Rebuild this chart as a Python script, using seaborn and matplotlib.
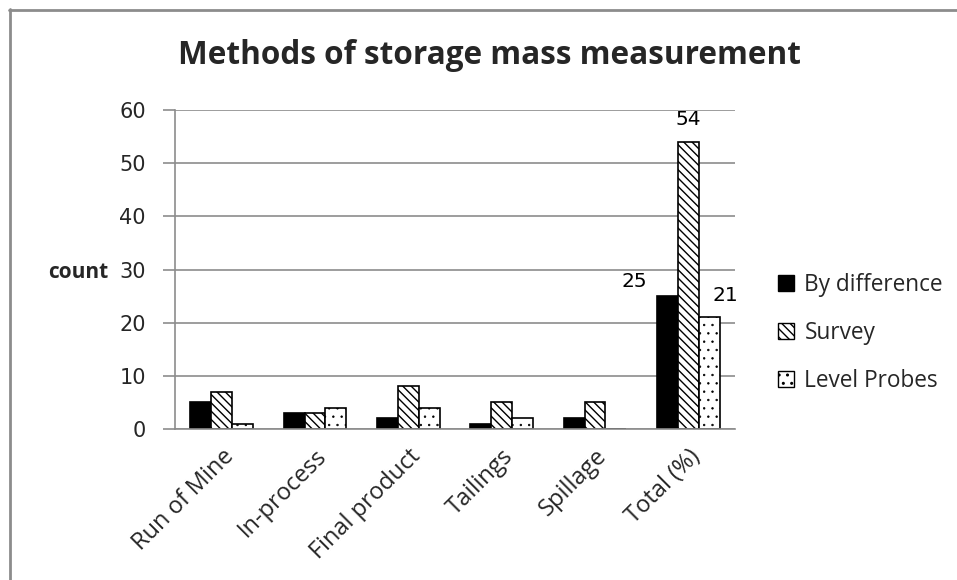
import matplotlib
matplotlib.use("Agg")
import matplotlib.pyplot as plt
from matplotlib.patches import Patch
from matplotlib.lines import Line2D
import seaborn as sns
import pandas as pd

categories = ["Run of Mine", "In-process", "Final product", "Tailings", "Spillage", "Total (%)"]
by_difference = [5, 3, 2, 1, 2, 25]
survey = [7, 3, 8, 5, 5, 54]
level_probes = [1, 4, 4, 2, 0, 21]
methods = ["By difference", "Survey", "Level Probes"]
labelled_category = "Total (%)"

rows = []
for name, vals in zip(methods, [by_difference, survey, level_probes]):
    for cat, v in zip(categories, vals):
        rows.append({"category": cat, "method": name, "count": v})
df = pd.DataFrame(rows)

sns.set_style("white")
plt.rcParams["font.family"] = ["Open Sans", "DejaVu Sans"]
plt.rcParams["hatch.linewidth"] = 1.0

fig = plt.figure(figsize=(9.57, 5.8), dpi=100)
ax = fig.add_axes([175 / 957, 1 - 429 / 580, 560 / 957, 319 / 580])

sns.barplot(data=df, x="category", y="count", hue="method", order=categories,
            hue_order=methods, palette=["black", "white", "white"],
            edgecolor="black", linewidth=1.2, width=0.67, ax=ax, legend=False)

styles = [("black", ""), ("white", "\\\\\\\\"), ("white", "..")]
for cont, (fc, hatch) in zip(ax.containers, styles):
    for bar in cont:
        bar.set_facecolor(fc)
        bar.set_hatch(hatch)
        bar.set_edgecolor("black")
        if hatch == "..":
            try:
                bar.set_hatch_linewidth(0.5)
            except AttributeError:
                pass

# value labels on the totals group
idx = categories.index(labelled_category)
offsets = [(-24, 4), (0, 9), (12, 9)]
for cont, vals, off in zip(ax.containers, [by_difference, survey, level_probes], offsets):
    bar = cont[idx]
    ax.annotate(str(vals[idx]), (bar.get_x() + bar.get_width() / 2, vals[idx]),
                xytext=off, textcoords="offset points", ha="center", va="bottom",
                fontsize=14.5, color="black", family=["DejaVu Sans"])

ax.set_ylim(0, 60)
ax.set_xlim(-0.5, len(categories) - 0.5)
ax.set_yticks(range(0, 61, 10))
ax.yaxis.grid(True, color="#8c8c8c", linewidth=1.2)
ax.set_axisbelow(True)
for s in ["top", "right"]:
    ax.spines[s].set_visible(False)
for s in ["left", "bottom"]:
    ax.spines[s].set_color("#8c8c8c")
    ax.spines[s].set_linewidth(1.2)

ax.set_xticks(range(len(categories)))
ax.set_xticklabels(categories, rotation=45, ha="right", rotation_mode="anchor", fontsize=17)
ax.set_xticks([i - 0.5 for i in range(len(categories) + 1)], minor=True)
ax.tick_params(axis="x", which="major", length=0, pad=11)
ax.tick_params(axis="x", which="minor", length=8, direction="out", color="#8c8c8c", width=1.2)
ax.tick_params(axis="y", length=9, direction="out", color="#8c8c8c", width=1.2, pad=12)
for lbl in ax.get_yticklabels():
    lbl.set_fontfamily(["DejaVu Sans"])
    lbl.set_fontsize(15)
ax.tick_params(axis="both", bottom=True, left=True)
ax.set_xlabel("")
ax.set_ylabel("count", rotation=0, fontsize=15, fontweight="bold", va="center", ha="center")
ax.yaxis.set_label_coords((78 - 175) / 560, (429 - 272) / 319)

fig.text(489 / 957, 1 - 55 / 580, "Methods of storage mass measurement",
         ha="center", va="center", fontsize=22.7, fontweight="bold")

handles = [Patch(facecolor=fc, edgecolor="black", hatch=h, linewidth=1.0) for fc, h in styles]
fig.legend(handles, methods, loc="center left", bbox_to_anchor=(758 / 957, 1 - 333 / 580),
           frameon=False, fontsize=16.3, handlelength=0.7, handleheight=0.7,
           labelspacing=1.05, handletextpad=0.45)

# outer frame lines on the top and left
fig.add_artist(Line2D([9 / 957, 1], [1 - 10 / 580, 1 - 10 / 580], color="#8c8c8c", lw=2))
fig.add_artist(Line2D([10 / 957, 10 / 957], [0, 1 - 9 / 580], color="#8c8c8c", lw=2))

fig.savefig("out.png", dpi=100)
